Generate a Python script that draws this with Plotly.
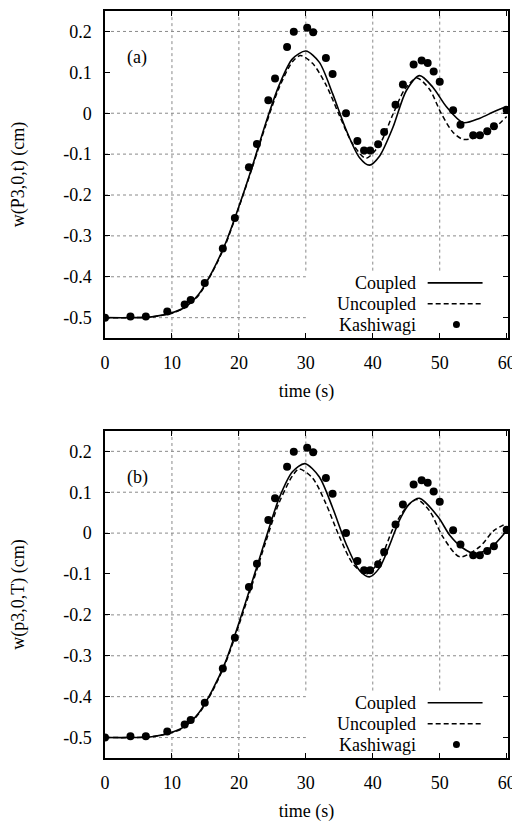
import plotly.graph_objects as go

# ---------------- data ----------------
# panel (a)
t_coupled_a = [0, 4, 7, 10, 12, 14, 16, 18, 20, 22, 24, 26, 28, 30, 32, 34, 36, 38, 39.5,
               41, 43, 45, 47, 49, 51, 53.5, 56, 58, 60]
w_coupled_a = [-0.500, -0.500, -0.498, -0.488, -0.474, -0.443, -0.388, -0.318, -0.228, -0.130,
               -0.025, 0.068, 0.133, 0.152, 0.125, 0.048, -0.040, -0.108, -0.127,
               -0.105, -0.035, 0.055, 0.092, 0.063, 0.016, -0.023, -0.012, 0.003, 0.017]

t_uncoupled_a = [0, 4, 7, 10, 12, 14, 16, 18, 20, 22, 24, 26, 28, 29.2, 31, 33, 35, 37, 39,
                 41, 43, 44.8, 46.6, 48.5, 50.2, 52, 53.5, 55.5, 58, 60]
w_uncoupled_a = [-0.500, -0.500, -0.498, -0.489, -0.475, -0.445, -0.390, -0.321, -0.230, -0.133,
                 -0.030, 0.062, 0.126, 0.141, 0.122, 0.070, -0.005, -0.075, -0.110,
                 -0.077, -0.003, 0.059, 0.086, 0.058, 0.000, -0.047, -0.064, -0.059, -0.038, -0.008]

# panel (b)
t_coupled_b = [0, 4, 7, 10, 12, 14, 16, 18, 20, 22, 24, 26, 28, 29.85, 32, 34, 36, 38, 39.5,
               41, 42.5, 44, 45.5, 47, 49.75, 51.5, 53.5, 55.2, 57.5, 60]
w_coupled_b = [-0.500, -0.500, -0.498, -0.487, -0.472, -0.440, -0.385, -0.315, -0.220, -0.118,
               -0.014, 0.085, 0.150, 0.170, 0.138, 0.062, -0.026, -0.091, -0.107,
               -0.085, -0.030, 0.032, 0.072, 0.085, 0.040, -0.005, -0.037, -0.050, -0.037, 0.006]

t_uncoupled_b = [0, 4, 7, 10, 12, 14, 16, 18, 20, 22, 24, 26, 28, 29, 31, 33, 35, 37, 39,
                 41, 43, 45, 46.6, 48.5, 50.5, 53, 56, 58, 60]
w_uncoupled_b = [-0.500, -0.500, -0.498, -0.488, -0.474, -0.442, -0.388, -0.318, -0.225, -0.125,
                 -0.022, 0.074, 0.140, 0.157, 0.135, 0.072, -0.008, -0.074, -0.100,
                 -0.068, 0.010, 0.063, 0.082, 0.054, -0.010, -0.058, -0.033, 0.005, 0.024]

# Kashiwagi experiment (same in both panels)
t_kashiwagi = [0, 3.8, 6.1, 9.3, 11.9, 12.8, 14.9, 17.6, 19.4, 21.5, 22.7, 24.4, 25.4, 27.2, 28.2,
               30.2, 31.1, 33.0, 34.0, 36.0, 37.7, 38.7, 39.6, 40.8, 41.7, 43.4, 44.5, 46.1,
               47.3, 48.2, 49.1, 50.0, 52.0, 53.1, 55.0, 56.0, 57.1, 58.1, 60.0]
w_kashiwagi = [-0.500, -0.497, -0.497, -0.485, -0.468, -0.457, -0.415, -0.331, -0.256, -0.132,
               -0.075, 0.032, 0.085, 0.162, 0.199, 0.209, 0.198, 0.135, 0.096, 0.000, -0.068,
               -0.091, -0.091, -0.076, -0.046, 0.021, 0.070, 0.119, 0.129, 0.123, 0.102, 0.077,
               0.007, -0.028, -0.054, -0.054, -0.044, -0.032, 0.008]

x_ticks = [0, 10, 20, 30, 40, 50, 60]
x_tick_labels = ["0", "10", "20", "30", "40", "50", "60"]
y_ticks = [-0.5, -0.4, -0.3, -0.2, -0.1, 0, 0.1, 0.2]
y_tick_labels = ["-0.5", "-0.4", "-0.3", "-0.2", "-0.1", "0", "0.1", "0.2"]

legend_names = ["Coupled", "Uncoupled", "Kashiwagi"]
panel_labels = ["(a)", "(b)"]
y_titles = ["w(P3,0,t) (cm)", "w(p3,0,T) (cm)"]
x_title = "time (s)"

# ---------------- figure ----------------
FONT = "Liberation Serif, Times New Roman, serif"
fig = go.Figure()

panels = [
    ("x", "y", t_coupled_a, w_coupled_a, t_uncoupled_a, w_uncoupled_a),
    ("x2", "y2", t_coupled_b, w_coupled_b, t_uncoupled_b, w_uncoupled_b),
]

for xr, yr, tc, wc, tu, wu in panels:
    fig.add_trace(go.Scatter(x=tc, y=wc, mode="lines", line=dict(color="black", width=1.6, shape="spline", smoothing=0.8),
                             xaxis=xr, yaxis=yr, showlegend=False, name=legend_names[0]))
    fig.add_trace(go.Scatter(x=tu, y=wu, mode="lines",
                             line=dict(color="black", width=1.5, dash="5px,3px", shape="spline", smoothing=0.8),
                             xaxis=xr, yaxis=yr, showlegend=False, name=legend_names[1]))
    fig.add_trace(go.Scatter(x=t_kashiwagi, y=w_kashiwagi, mode="markers",
                             marker=dict(color="black", size=8, line=dict(width=0)),
                             xaxis=xr, yaxis=yr, showlegend=False, name=legend_names[2]))

shapes = []
annotations = []
grid_style = dict(color="#8a8a8a", width=1, dash="dot")
leg_top_w = -0.385
hidden_grid = [0.1, -0.1]  # gridline missing in (a) / (b) respectively

for i, (xr, yr, *_rest) in enumerate(panels):
    # vertical gridlines
    for xv in [10, 20, 30, 40, 50]:
        y1 = 0.25
        y0 = -0.55 if xv < 30 else leg_top_w
        shapes.append(dict(type="line", xref=xr, yref=yr, x0=xv, x1=xv, y0=y0, y1=y1,
                           line=grid_style, layer="below"))
    # horizontal gridlines
    for yv in y_ticks:
        if abs(yv - hidden_grid[i]) < 1e-9:
            continue
        x1 = 30 if yv < leg_top_w else 60.2
        shapes.append(dict(type="line", xref=xr, yref=yr, x0=0, x1=x1, y0=yv, y1=yv,
                           line=grid_style, layer="below"))
    # panel label
    annotations.append(dict(text=panel_labels[i], xref=xr, yref=yr, x=4.8, y=0.137,
                            showarrow=False, font=dict(family=FONT, size=18, color="black")))
    # legend
    leg_y = [-0.415, -0.466, -0.517]
    for name, ly in zip(legend_names, leg_y):
        annotations.append(dict(text=name, xref=xr, yref=yr, x=46.7, y=ly, xanchor="right",
                                showarrow=False, font=dict(family=FONT, size=18, color="black")))
    shapes.append(dict(type="line", xref=xr, yref=yr, x0=48.2, x1=56.4, y0=leg_y[0], y1=leg_y[0],
                       line=dict(color="black", width=1.6)))
    shapes.append(dict(type="line", xref=xr, yref=yr, x0=48.2, x1=56.4, y0=leg_y[1], y1=leg_y[1],
                       line=dict(color="black", width=1.5, dash="5px,3px")))
    shapes.append(dict(type="circle", xref=xr, yref=yr, xsizemode="pixel", ysizemode="pixel",
                       xanchor=52.5, yanchor=leg_y[2], x0=-3.5, x1=3.5, y0=-3.5, y1=3.5,
                       fillcolor="black", line=dict(width=0)))

axis_common = dict(showline=True, linecolor="black", linewidth=1.5, mirror="ticks",
                   ticks="inside", ticklen=5, tickcolor="black", tickwidth=1,
                   showgrid=False, zeroline=False,
                   tickfont=dict(family=FONT, size=18, color="black"))

xaxis_common = dict(axis_common, range=[0, 60.2], tickmode="array", tickvals=x_ticks,
                    ticktext=x_tick_labels, ticklabelstandoff=8,
                    title=dict(text=x_title, font=dict(family=FONT, size=18, color="black"), standoff=12))
yaxis_common = dict(axis_common, range=[-0.55, 0.25], tickmode="array", tickvals=y_ticks,
                    ticktext=y_tick_labels, ticklabelstandoff=8)

# page has an 8px body margin, so the figure is sized/placed to compensate
fig.update_layout(
    width=512, height=819,
    margin=dict(l=97, r=12, t=1, b=69),
    paper_bgcolor="white", plot_bgcolor="white",
    showlegend=False,
    xaxis=dict(xaxis_common, anchor="y", domain=[0, 1]),
    yaxis=dict(yaxis_common, anchor="x", domain=[0.5621, 1],
               title=dict(text=y_titles[0], font=dict(family=FONT, size=18, color="black"), standoff=34)),
    xaxis2=dict(xaxis_common, anchor="y2", domain=[0, 1]),
    yaxis2=dict(yaxis_common, anchor="x2", domain=[0, 0.4379],
                title=dict(text=y_titles[1], font=dict(family=FONT, size=18, color="black"), standoff=34)),
    shapes=shapes,
    annotations=annotations,
)

fig.write_html("out.html")
